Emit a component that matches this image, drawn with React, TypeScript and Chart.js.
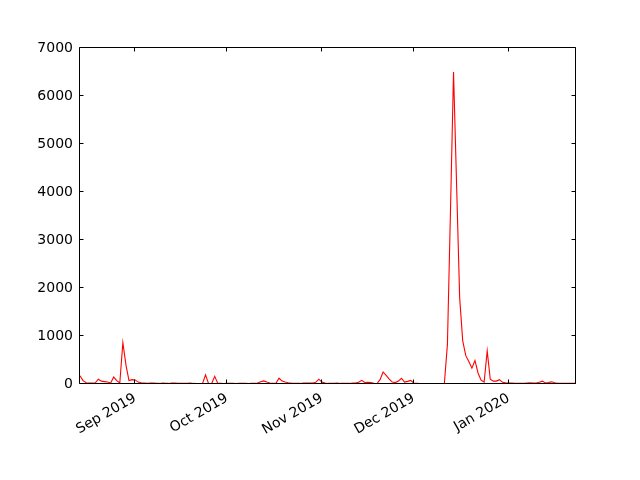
import React, { useEffect, useRef } from "react";
import { Chart, registerables } from "chart.js";

Chart.register(...registerables);

// Daily series starting 2019-08-14
const START_DATE = Date.UTC(2019, 7, 14);
const DAY_MS = 86400000;

const values: number[] = [
  170, 70, 25, 20, 20, 25, 100, 60, 50, 40,
  20, 145, 70, 20, 860, 400, 70, 90, 85, 40,
  25, 20, 15, 20, 22, 15, 12, 20, 15, 12,
  20, 22, 15, 12, 12, 15, 20, 12, 10, 10,
  5, 190, 5, 10, 160, 12, 12, 10, 12, 14,
  12, 10, 12, 14, 12, 10, 12, 15, 20, 45,
  65, 40, 20, 15, 15, 120, 60, 40, 25, 18,
  15, 12, 12, 18, 20, 18, 22, 35, 100, 40,
  18, 12, 12, 15, 18, 12, 12, 15, 12, 18,
  18, 35, 75, 30, 35, 30, 15, 10, 90, 250,
  180, 100, 40, 30, 60, 120, 40, 55, 75, 20,
  15, 10, 10, 10, 10, 10, 10, 10, 10, 10,
  820, 3600, 6500, 4150, 1800, 900, 590, 470, 330, 490,
  230, 80, 40, 690, 100, 60, 60, 90, 35, 25,
  20, 18, 15, 12, 12, 15, 20, 25, 20, 20,
  35, 60, 20, 30, 45, 25, 15, 15, 12, 15,
  12, 15, 15,
];

const dayIndex: number[] = values.map((_, i) => i);

const monthTickDates: number[] = [
  Date.UTC(2019, 8, 1),
  Date.UTC(2019, 9, 1),
  Date.UTC(2019, 10, 1),
  Date.UTC(2019, 11, 1),
  Date.UTC(2020, 0, 1),
];
const monthTickLabels: string[] = ["Sep 2019", "Oct 2019", "Nov 2019", "Dec 2019", "Jan 2020"];
const monthTickIndex: number[] = monthTickDates.map((d) => Math.round((d - START_DATE) / DAY_MS));

const yTickValues: number[] = [0, 1000, 2000, 3000, 4000, 5000, 6000, 7000];

const FONT = { family: "'DejaVu Sans', sans-serif", size: 14 };

const framePlugin = {
  id: "mplFrame",
  afterDraw(chart: any) {
    const { ctx, chartArea: a, scales } = chart;
    const L = Math.round(a.left) - 0.5;
    const R = Math.round(a.right) - 0.5;
    const T = Math.round(a.top) - 0.5;
    const B = Math.round(a.bottom) - 0.5;
    ctx.save();
    ctx.strokeStyle = "#000";
    ctx.lineWidth = 1;
    ctx.beginPath();
    ctx.rect(L, T, R - L, B - T);
    ctx.stroke();
    const tl = 4;
    ctx.beginPath();
    for (const t of scales.y.ticks) {
      const y = Math.round(scales.y.getPixelForValue(t.value)) - 0.5;
      ctx.moveTo(L, y);
      ctx.lineTo(L + tl, y);
      ctx.moveTo(R, y);
      ctx.lineTo(R - tl, y);
    }
    for (const t of scales.x.ticks) {
      const x = Math.round(scales.x.getPixelForValue(t.value)) - 0.5;
      ctx.moveTo(x, B);
      ctx.lineTo(x, B - tl);
      ctx.moveTo(x, T);
      ctx.lineTo(x, T + tl);
    }
    ctx.stroke();
    ctx.restore();
  },
};

export default function App() {
  const canvasRef = useRef<HTMLCanvasElement | null>(null);

  useEffect(() => {
    document.body.style.margin = "0";
    const canvas = canvasRef.current;
    if (!canvas) return;
    const chart = new Chart(canvas, {
      type: "line",
      data: {
        labels: dayIndex,
        datasets: [
          {
            data: dayIndex.map((d, i) => ({ x: d, y: values[i] })),
            borderColor: "#ff0000",
            borderWidth: 1.1,
            pointRadius: 0,
            tension: 0,
            fill: false,
          },
        ],
      },
      options: {
        responsive: false,
        animation: false,
        devicePixelRatio: 1,
        layout: { padding: { left: 0, top: 48, right: 64, bottom: 0 } },
        plugins: { legend: { display: false }, tooltip: { enabled: false } },
        scales: {
          x: {
            type: "linear",
            min: 0,
            max: values.length - 1,
            grid: { display: false, drawTicks: false },
            border: { display: false },
            afterBuildTicks: (scale: any) => {
              scale.ticks = monthTickIndex.map((v) => ({ value: v }));
            },
            afterFit: (scale: any) => {
              scale.height = 96;
              scale.paddingLeft = 0;
              scale.paddingRight = 0;
            },
            ticks: {
              autoSkip: false,
              minRotation: 30,
              maxRotation: 30,
              padding: 6,
              color: "#000",
              font: FONT,
              callback: (v: any) => {
                const k = monthTickIndex.indexOf(Number(v));
                return k >= 0 ? monthTickLabels[k] : "";
              },
            },
          },
          y: {
            type: "linear",
            min: 0,
            max: 7000,
            grid: { display: false, drawTicks: false },
            border: { display: false },
            afterBuildTicks: (scale: any) => {
              scale.ticks = yTickValues.map((v) => ({ value: v }));
            },
            afterFit: (scale: any) => {
              scale.width = 80;
              scale.paddingTop = 0;
              scale.paddingBottom = 0;
            },
            ticks: {
              padding: 7,
              color: "#000",
              font: FONT,
              callback: (v: any) => String(v),
            },
          },
        },
      },
      plugins: [framePlugin],
    });
    return () => chart.destroy();
  }, []);

  return (
    <div style={{ position: "absolute", left: 0, top: 0, width: 640, height: 480, background: "#fff" }}>
      <canvas ref={canvasRef} width={640} height={480} />
    </div>
  );
}
